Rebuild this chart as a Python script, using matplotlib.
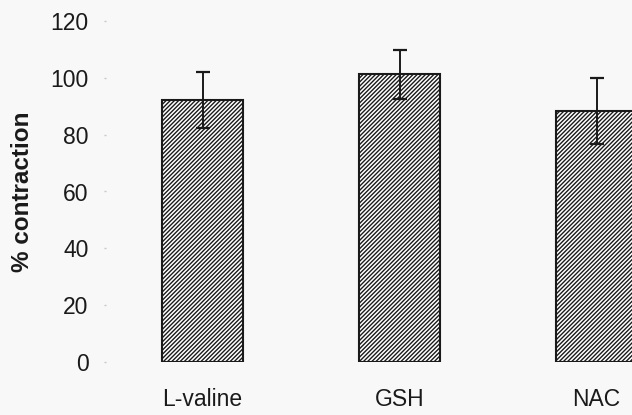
import matplotlib
matplotlib.use("Agg")
import matplotlib.pyplot as plt
import numpy as np

# values
treatments = ["L-valine", "GSH", "NAC"]
contraction = [92.2, 101.3, 88.3]
sem = [9.8, 8.6, 11.7]
y_ticks = [0, 20, 40, 60, 80, 100, 120]

plt.rcParams["font.family"] = ["Liberation Sans", "DejaVu Sans"]
plt.rcParams["hatch.linewidth"] = 1.0
plt.rcParams["hatch.color"] = "#222222"

fig = plt.figure(figsize=(6.32, 4.15), dpi=100, facecolor="#f8f8f8")
ax = fig.add_axes([106 / 632, 1 - 362 / 415, 1 - 106 / 632, (362 - 21) / 415])
ax.set_facecolor("#f8f8f8")

x = np.arange(len(treatments))
ax.bar(x, contraction, width=0.41, color="white", edgecolor="#1a1a1a",
       linewidth=1.5, hatch="////////", zorder=2)
ax.errorbar(x, contraction, yerr=sem, fmt="none", ecolor="#1a1a1a",
            elinewidth=1.4, capsize=5, capthick=1.6, zorder=3)

ax.set_xlim(-0.49, 2.18)
ax.set_ylim(0, 120)
ax.set_yticks(y_ticks)
ax.set_xticks(x)
ax.set_xticklabels(treatments)

for s in ax.spines.values():
    s.set_visible(False)

ax.tick_params(axis="y", length=1.5, width=1, color="#c8c8c8",
               labelsize=16.5, pad=11, labelcolor="#1a1a1a")
ax.tick_params(axis="x", length=0, labelsize=16.5, pad=19, labelcolor="#1a1a1a")

ax.set_ylabel("% contraction", fontsize=17.5, fontweight="bold", color="#1a1a1a")
ax.yaxis.set_label_coords(-0.137, 0.5)

fig.savefig("out.png", dpi=100, facecolor=fig.get_facecolor())
